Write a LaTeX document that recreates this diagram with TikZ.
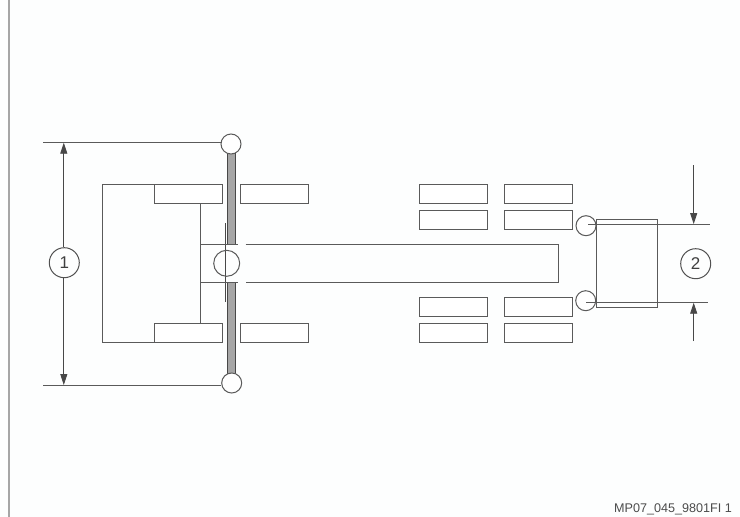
\documentclass[tikz,border=0pt]{standalone}
\usepackage{fontspec}
\setmainfont{Liberation Sans}
\usetikzlibrary{arrows.meta}
\definecolor{ink}{HTML}{5A5A5A}
\definecolor{paper}{HTML}{FDFEFE}
\tikzset{
  x=1pt,y=-1pt,
  tyre/.style={draw=ink,line width=1pt,fill=white,rectangle,minimum width=68pt,minimum height=19pt,inner sep=0pt,outer sep=0pt},
  joint/.style={draw=ink,line width=1pt,fill=white,circle,minimum size=20pt,inner sep=0pt},
  callout/.style={draw=ink!90!black,line width=1pt,circle,minimum size=30pt,inner sep=0pt,font=\fontsize{17}{17}\selectfont,text=ink!70!black},
  ln/.style={draw=ink,line width=.9pt},
  dim/.style={draw=ink!80!black,line width=.9pt,-{Triangle[length=11pt,width=7pt]}}
}
\begin{document}
\begin{tikzpicture}
\useasboundingbox (0,0) rectangle (740,517);
\fill[paper] (0,0) rectangle (740,517);
\draw[draw=black!35,line width=1.2pt] (9,0) -- (9,517);
% axle band
\fill[black!35] (227,150) rectangle (235.5,244);
\fill[black!35] (227,282) rectangle (235.5,378);
\draw[ink!80!black,line width=1pt] (227,150) -- (227,244) (227,282) -- (227,378) (235.5,150) -- (235.5,244) (235.5,282) -- (235.5,378);
\draw[ink!80!black,line width=.8pt] (225.8,223) -- (225.8,302);
% frame
\coordinate (fTL) at (102.3,184.5);
\coordinate (fBL) at (102.3,342);
\node[tyre,anchor=north west] (t1) at (154.3,184.5) {};
\node[tyre,anchor=north west] (t2) at (240.3,184.5) {};
\node[tyre,anchor=north west] (t3) at (154.3,323) {};
\node[tyre,anchor=north west] (t4) at (240.3,323) {};
\draw[ln] (t1.north west) -- (fTL) -- (fBL) -- (t3.south west);
\coordinate (vT) at (200.7,203.5);
\coordinate (vB) at (200.7,323);
\draw[ln] (vT) -- (vB);
% drawbar
\coordinate (a1) at (200.7,244.3);
\coordinate (a2) at (238,244.3);
\coordinate (a3) at (200.7,282.3);
\coordinate (a4) at (238,282.3);
\coordinate (b1) at (245.7,244.3);
\coordinate (b2) at (558,244.3);
\coordinate (b3) at (558,282.3);
\coordinate (b4) at (245.7,282.3);
\draw[ln] (a1) -- (a2) (a3) -- (a4);
\draw[ln] (b1) -- (b2) -- (b3) -- (b4);
\node[draw=ink,line width=1pt,circle,minimum size=26pt,inner sep=0pt] (hub) at (226.7,263.3) {};
% rear tyres
\node[tyre,anchor=north west] (r1) at (419.3,184.7) {};
\node[tyre,anchor=north west] (r2) at (504.5,184.7) {};
\node[tyre,anchor=north west] (r3) at (419.3,210) {};
\node[tyre,anchor=north west] (r4) at (504.5,210) {};
\node[tyre,anchor=north west] (r5) at (419.3,297.5) {};
\node[tyre,anchor=north west] (r6) at (504.5,297.5) {};
\node[tyre,anchor=north west] (r7) at (419.3,323) {};
\node[tyre,anchor=north west] (r8) at (504.5,323) {};
% rear joints and box
\node[joint] (j3) at (586,225.7) {};
\node[joint] (j4) at (585.7,300.7) {};
\node[draw=ink,line width=1pt,rectangle,anchor=north west,minimum width=61.4pt,minimum height=87.6pt,inner sep=0pt,outer sep=0pt] (box) at (596.3,219.7) {};
% front joints
\node[joint] (j1) at (231,144) {};
\node[joint] (j2) at (231.7,383) {};
% dimension 1
\coordinate (d1a) at (43,142.7);
\coordinate (d1b) at (43,385);
\coordinate (d1t) at (63.8,142.7);
\coordinate (d1d) at (63.8,385);
\draw[ln] (d1a) -- (j1.west |- d1a);
\draw[ln] (d1b) -- (j2.west |- d1b);
\node[callout] (c1) at (64.3,262.7) {1};
\draw[dim] (c1.north -| d1t) -- (d1t);
\draw[dim] (c1.south -| d1d) -- (d1d);
% dimension 2
\coordinate (d2a) at (588,224);
\coordinate (d2b) at (710,224);
\coordinate (d2c) at (586,302.7);
\coordinate (d2d) at (708,302.7);
\draw[ln] (d2a) -- (d2b) (d2c) -- (d2d);
\node[callout] (c2) at (695.7,263.7) {2};
\coordinate (e1) at (693.7,165);
\coordinate (e2) at (693.7,224);
\coordinate (e3) at (693.7,341);
\coordinate (e4) at (693.7,302.7);
\draw[dim] (e1) -- (e2);
\draw[dim] (e3) -- (e4);
\node[anchor=base east,font=\fontsize{12.6}{13}\selectfont,text=black!70,inner sep=0pt] (code) at (732,512) {MP07\_045\_9801FI 1};
\end{tikzpicture}
\end{document}
